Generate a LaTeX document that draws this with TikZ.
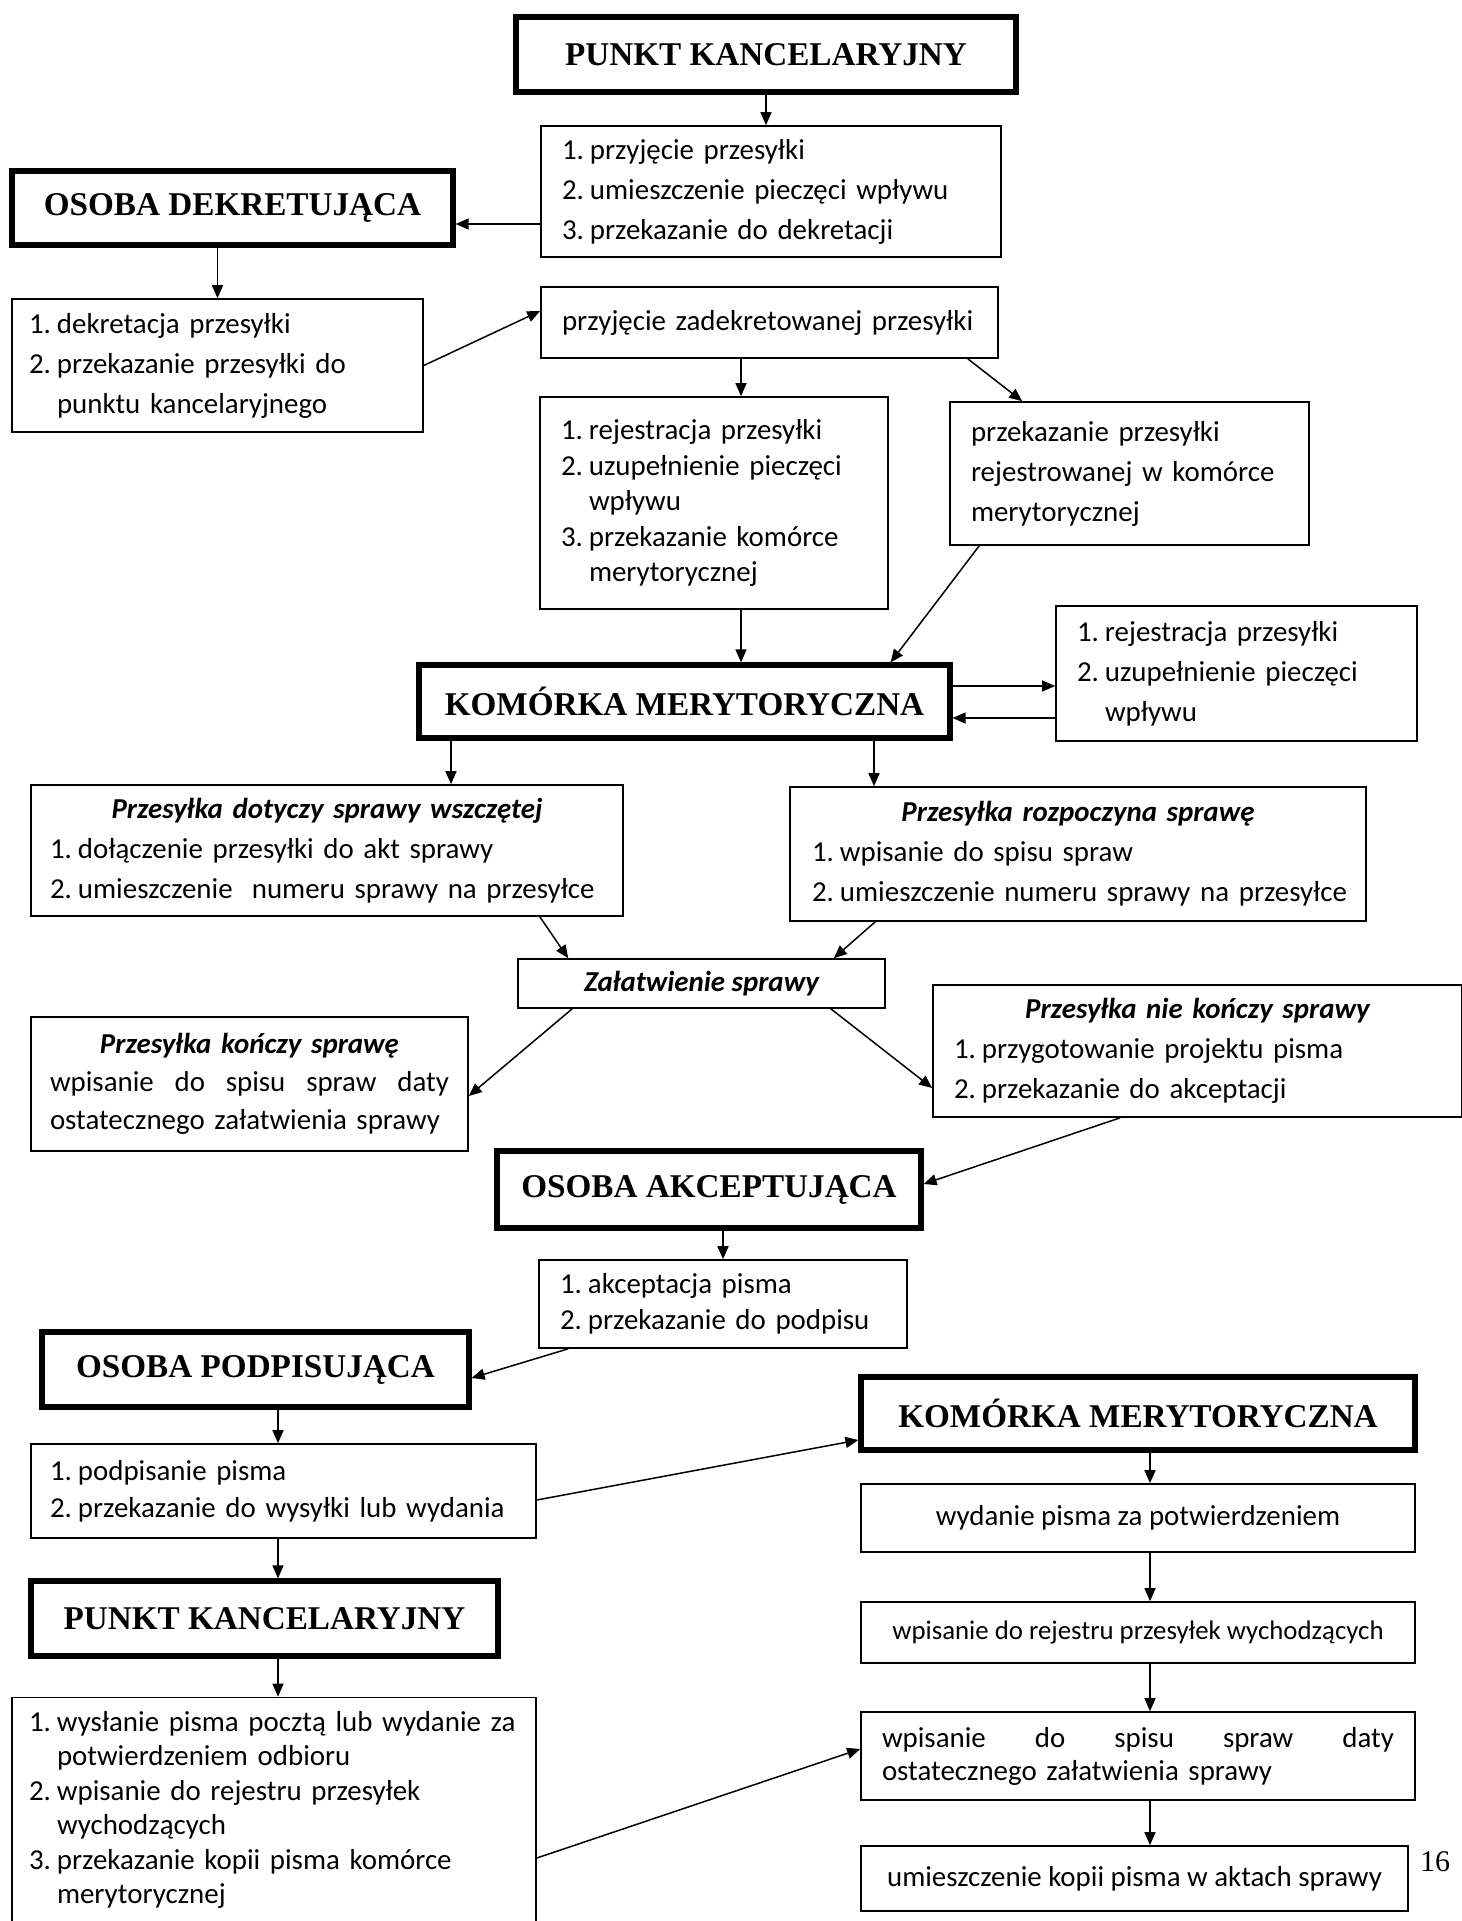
\documentclass[tikz,border=0pt]{standalone}
\usepackage{fontspec}
\setmainfont{Carlito}
\newfontfamily\headfam{Liberation Serif}
\usetikzlibrary{arrows.meta,calc}
\newcommand{\lnum}[1]{\makebox[14pt][l]{#1}}
\newcommand{\lcont}{\hspace*{14pt}}
\newcommand{\btitle}[1]{\makebox[\hsize]{\bfseries\itshape #1}}
\newcommand{\jline}[1]{\makebox[\hsize][s]{#1}}
\begin{document}
\begin{tikzpicture}[x=0.5pt,y=-0.5pt,
  box/.style={draw,line width=0.8pt,inner sep=0pt,font=\fontsize{14.45}{20}\selectfont},
  lbox/.style={box,align=left,inner xsep=10.5pt},
  cbox/.style={box,align=center},
  head/.style={draw,line width=2.6pt,inner sep=0pt,align=center,font=\headfam\bfseries\fontsize{16.6}{20}\selectfont},
  arr/.style={-{Triangle[length=6.5pt,width=5.5pt]},line width=0.75pt}]
\useasboundingbox (0,0) rectangle (1461,1921);

\node[head,minimum width=250pt,minimum height=37.5pt] (pk1) at (766,54.5) {PUNKT KANCELARYJNY};
\node[lbox,text width=209pt,minimum height=65.5pt] (l1) at (771,191.5) {\lnum{1.}przyjęcie przesyłki\\ \lnum{2.}umieszczenie pieczęci wpływu\\ \lnum{3.}przekazanie do dekretacji};
\node[head,minimum width=220.5pt,minimum height=37pt] (od) at (232.5,208) {OSOBA DEKRETUJĄCA};
\node[lbox,inner xsep=8.5pt,text width=188.5pt,minimum height=66.5pt] (dk) at (217.5,365.5) {\lnum{1.}dekretacja przesyłki\\ \lnum{2.}przekazanie przesyłki do\\ \lcont punktu kancelaryjnego};
\node[lbox,text width=207.5pt,minimum height=35.5pt] (pz) at (769.5,322.5) {\mbox{przyjęcie zadekretowanej przesyłki}};
\node[lbox,text width=153pt,minimum height=106pt,font=\fontsize{14.45}{17.75}\selectfont] (rj) at (714,503) {\lnum{1.}rejestracja przesyłki\\ \lnum{2.}uzupełnienie pieczęci\\ \lcont wpływu\\ \lnum{3.}przekazanie komórce\\ \lcont merytorycznej};
\node[lbox,text width=158.5pt,minimum height=71.5pt] (pr) at (1129.5,473.5) {przekazanie przesyłki\\ rejestrowanej w komórce\\ merytorycznej};
\node[head,minimum width=265.5pt,minimum height=36.5pt] (km) at (684.5,701.5) {KOMÓRKA MERYTORYCZNA};
\node[lbox,text width=159.5pt,minimum height=67.5pt] (kr) at (1236.5,673.5) {\lnum{1.}rejestracja przesyłki\\ \lnum{2.}uzupełnienie pieczęci\\ \lcont wpływu};
\node[lbox,inner xsep=9.5pt,text width=277pt,minimum height=65.5pt] (dt) at (327,850.5) {\btitle{Przesyłka dotyczy sprawy wszczętej}\\ \lnum{1.}dołączenie przesyłki do akt sprawy\\ \mbox{\lnum{2.}umieszczenie\ \ numeru sprawy na przesyłce}};
\node[lbox,inner xsep=11pt,text width=266pt,minimum height=67pt] (rz) at (1078,854) {\btitle{Przesyłka rozpoczyna sprawę}\\ \lnum{1.}wpisanie do spisu spraw\\ \mbox{\lnum{2.}umieszczenie numeru sprawy na przesyłce}};
\node[cbox,minimum width=183.5pt,minimum height=24.5pt,font=\bfseries\itshape\fontsize{14.45}{20}\selectfont] (zs) at (701.5,983.5) {Załatwienie sprawy};
\node[lbox,inner xsep=9.5pt,text width=199.5pt,minimum height=67pt,font=\fontsize{14.45}{19}\selectfont] (ks) at (249.5,1084) {\btitle{Przesyłka kończy sprawę}\\ \jline{wpisanie\hfill do\hfill spisu\hfill spraw\hfill daty}\\ ostatecznego załatwienia sprawy};
\node[lbox,text width=243.5pt,minimum height=66pt] (nk) at (1197.5,1051) {\btitle{Przesyłka nie kończy sprawy}\\ \lnum{1.}przygotowanie projektu pisma\\ \lnum{2.}przekazanie do akceptacji};
\node[head,minimum width=212pt,minimum height=38.5pt] (ak) at (709,1189.5) {OSOBA AKCEPTUJĄCA};
\node[lbox,text width=163pt,minimum height=44pt,font=\fontsize{14.45}{18}\selectfont] (ap) at (723,1304) {\lnum{1.}akceptacja pisma\\ \lnum{2.}przekazanie do podpisu};
\node[head,minimum width=213.5pt,minimum height=37.5pt] (ps) at (255.5,1369.5) {OSOBA PODPISUJĄCA};
\node[head,minimum width=277pt,minimum height=36.5pt] (km2) at (1138,1413.5) {KOMÓRKA MERYTORYCZNA};
\node[lbox,inner xsep=9.5pt,text width=233.5pt,minimum height=47pt,font=\fontsize{14.45}{18.5}\selectfont] (pd) at (283.5,1491) {\lnum{1.}podpisanie pisma\\ \mbox{\lnum{2.}przekazanie do wysyłki lub wydania}};
\node[cbox,minimum width=277pt,minimum height=34pt] (wd) at (1138,1518) {wydanie pisma za potwierdzeniem};
\node[head,minimum width=233.5pt,minimum height=37.5pt] (pk2) at (264.5,1618.5) {PUNKT KANCELARYJNY};
\node[cbox,minimum width=277pt,minimum height=30.5pt,font=\fontsize{13.4}{16}\selectfont] (rr) at (1138,1632.5) {wpisanie do rejestru przesyłek wychodzących};
\node[lbox,inner xsep=8.5pt,text width=245pt,minimum height=112.5pt,font=\fontsize{14.45}{17.25}\selectfont] (wy) at (274,1810) {\mbox{\lnum{1.}wysłanie pisma pocztą lub wydanie za}\\ \lcont potwierdzeniem odbioru\\ \lnum{2.}wpisanie do rejestru przesyłek\\ \lcont wychodzących\\ \lnum{3.}przekazanie kopii pisma komórce\\ \lcont merytorycznej};
\node[lbox,text width=256pt,minimum height=44pt,font=\fontsize{14.45}{16.5}\selectfont] (sp) at (1138,1756) {\jline{wpisanie\hfill do\hfill spisu\hfill spraw\hfill daty}\\ ostatecznego załatwienia sprawy};
\node[cbox,minimum width=273.5pt,minimum height=32.5pt] (kp) at (1134.5,1878.5) {umieszczenie kopii pisma w aktach sprawy};
\node[font=\headfam\fontsize{15}{18}\selectfont,inner sep=0pt] (pg) at (1435,1862) {16};

\draw[arr] (pk1.south) -- (pk1.south |- l1.north);
\draw[arr] ($(l1.west)+(0,32.5)$) -- ($(od.east)+(0,16)$);
\draw[arr] (od.south -| dk.north) -- (dk.north);
\draw[arr] (dk.east) -- ($(pz.west)+(0,-11.5)$);
\draw[arr] ($(pz.south)+(-28.5,0)$) -- ($(rj.north)+(27,0)$);
\draw[arr] ($(pz.south east)+(-31,0)$) -- ($(pr.north west)+(73,0)$);
\draw[arr] ($(rj.south)+(27,0)$) -- ($(km.north)+(56.5,0)$);
\draw[arr] ($(pr.south west)+(30,0)$) -- ($(km.north east)+(-62,0)$);
\draw[arr] ($(km.east)+(0,-15.5)$) -- ($(kr.west)+(0,12.5)$);
\draw[arr] ($(kr.west)+(0,44.5)$) -- ($(km.east)+(0,16.5)$);
\draw[arr] ($(km.south)+(-233.5,0)$) -- ($(dt.north)+(124,0)$);
\draw[arr] ($(km.south)+(189.5,0)$) -- ($(rz.north)+(-204,0)$);
\draw[arr] ($(dt.south east)+(-84,0)$) -- ($(zs.north west)+(51,0)$);
\draw[arr] ($(rz.south west)+(86,0)$) -- ($(zs.north east)+(-52,0)$);
\draw[arr] ($(zs.south west)+(55,0)$) -- ($(ks.east)+(0,12)$);
\draw[arr] ($(zs.south east)+(-55,0)$) -- ($(nk.west)+(0,37)$);
\draw[arr] ($(nk.south west)+(188,0)$) -- ($(ak.east)+(0,-5.5)$);
\draw[arr] (ap.north |- ak.south) -- (ap.north);
\draw[arr] ($(ap.south west)+(30,0)$) -- ($(ps.east)+(0,8.5)$);
\draw[arr] ($(ps.south)+(22.5,0)$) -- ($(pd.north)+(-5.5,0)$);
\draw[arr] ($(pd.east)+(0,9)$) -- ($(km2.west)+(0,26.5)$);
\draw[arr] ($(km2.south)+(12,0)$) -- ($(wd.north)+(12,0)$);
\draw[arr] ($(wd.south)+(12,0)$) -- ($(rr.north)+(12,0)$);
\draw[arr] ($(rr.south)+(12,0)$) -- ($(sp.north)+(12,0)$);
\draw[arr] ($(sp.south)+(12,0)$) -- ($(kp.north)+(15.5,0)$);
\draw[arr] ($(pd.south)+(-5.5,0)$) -- ($(pk2.north)+(13.5,0)$);
\draw[arr] ($(pk2.south)+(13.5,0)$) -- ($(wy.north)+(4,0)$);
\draw[arr] ($(wy.east)+(0,48)$) -- ($(sp.west)+(0,-7)$);
\end{tikzpicture}
\end{document}
